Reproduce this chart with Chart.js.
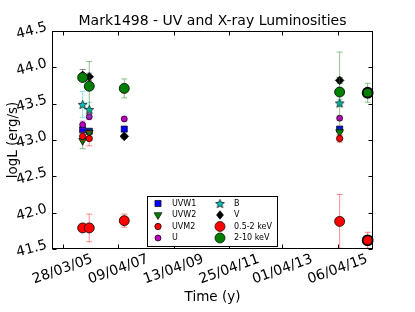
<!DOCTYPE html>
<html><head><meta charset="utf-8">
<script src="https://cdn.jsdelivr.net/npm/chart.js@4.4.1/dist/chart.umd.min.js"></script>
<style>html,body{margin:0;padding:0;background:#fff}</style>
</head><body>
<canvas id="c" width="415" height="312" style="width:415px;height:312px;display:block"></canvas>
<script>
// ---- tick labels (x in MJD) ----
const xTickValues = [53457, 54199, 54934, 55676, 56383, 57118];
const xTickLabels = ['28/03/05', '09/04/07', '13/04/09', '25/04/11', '01/04/13', '06/04/15'];
const yTickValues = [41.5, 42.0, 42.5, 43.0, 43.5, 44.0, 44.5];
const seriesNames = ['UVW1', 'UVW2', 'UVM2', 'U', 'B', 'V', '0.5-2 keV', '2-10 keV'];

// ---- series values ----
const uvw1Mjd = [53723, 53811, 54277, 57144];
const uvw1LogL = [43.14, 43.12, 43.15, 43.15];
const uvw1Err = [0.03, 0.03, 0.03, 0.03];

const uvw2Mjd = [53723, 53811, 57144];
const uvw2LogL = [42.99, 43.10, 43.11];
const uvw2Err = [0.11, 0.05, 0.04];

const uvm2Mjd = [53723, 53811, 57144];
const uvm2LogL = [43.05, 43.02, 43.02];
const uvm2Err = [0.06, 0.10, 0.05];

const uMjd = [53723, 53811, 54277, 57144];
const uLogL = [43.21, 43.32, 43.29, 43.30];
const uErr = [0.05, 0.04, 0.03, 0.03];

const bMjd = [53723, 53811, 57144];
const bLogL = [43.49, 43.42, 43.51];
const bErr = [0.18, 0.10, 0.05];

const vMjd = [53723, 53811, 54277, 57144];
const vLogL = [43.89, 43.87, 43.05, 43.82];
const vErr = [0.08, 0.05, 0.03, 0.04];

const softMjd = [53723, 53811, 54277, 57144, 57517];
const softLogL = [41.79, 41.79, 41.89, 41.88, 41.62];
const softErr = [0.05, 0.19, 0.09, 0.37, 0.11];

const hardMjd = [53723, 53811, 54277, 57144, 57517];
const hardLogL = [43.86, 43.74, 43.71, 43.66, 43.65];
const hardErr = [0.05, 0.34, 0.13, 0.55, 0.13];

// ---- build ----
function makeStar(outer, fill) {
  const s = Math.ceil(outer * 2 + 3);
  const cv = document.createElement('canvas'); cv.width = s; cv.height = s;
  const g = cv.getContext('2d'); const cx = s / 2, cy = s / 2 + 0.5; const inner = outer * 0.45;
  g.beginPath();
  for (let k = 0; k < 10; k++) {
    const r = k % 2 ? inner : outer; const a = -Math.PI / 2 + k * Math.PI / 5;
    const px = cx + r * Math.cos(a), py = cy + r * Math.sin(a);
    if (k) g.lineTo(px, py); else g.moveTo(px, py);
  }
  g.closePath(); g.fillStyle = fill; g.fill(); g.lineWidth = 0.7; g.strokeStyle = '#000'; g.stroke();
  return cv;
}
const starImg = makeStar(4.6, '#00bfbf');

const seriesCfg = [
  { x: uvw1Mjd, y: uvw1LogL, e: uvw1Err, color: '#0000ff', err: 'rgba(0,0,255,0.45)', style: 'rect', r: 4.3 },
  { x: uvw2Mjd, y: uvw2LogL, e: uvw2Err, color: '#007f00', err: 'rgba(0,127,0,0.45)', style: 'triangle', r: 4.5, rot: 180 },
  { x: uvm2Mjd, y: uvm2LogL, e: uvm2Err, color: '#ff0000', err: 'rgba(255,0,0,0.45)', style: 'circle', r: 3.2 },
  { x: uMjd, y: uLogL, e: uErr, color: '#bf00bf', err: 'rgba(191,0,191,0.45)', style: 'circle', r: 3 },
  { x: bMjd, y: bLogL, e: bErr, color: '#00bfbf', err: 'rgba(0,191,191,0.45)', style: starImg, r: 4.5 },
  { x: vMjd, y: vLogL, e: vErr, color: '#000000', err: 'rgba(0,0,0,0.45)', style: 'rectRot', r: 4.3 },
  { x: softMjd, y: softLogL, e: softErr, color: '#ff0000', err: 'rgba(255,0,0,0.45)', style: 'circle', r: 5 },
  { x: hardMjd, y: hardLogL, e: hardErr, color: '#007f00', err: 'rgba(0,127,0,0.45)', style: 'circle', r: 5 }
];

const datasets = seriesCfg.map((s, i) => ({
  label: seriesNames[i],
  data: s.x.map((v, k) => ({ x: v, y: s.y[k] })),
  errs: s.e,
  errColor: s.err,
  showLine: false,
  pointStyle: s.style,
  pointRadius: s.r,
  pointRotation: s.rot || 0,
  backgroundColor: s.color,
  borderColor: '#000',
  borderWidth: i >= 6 ? (c) => (c.dataIndex === s.x.length - 1 ? 1.8 : 0.8) : 0.7,
  order: 8 - i
}));

const DJ = '"DejaVu Sans", "Liberation Sans", sans-serif';

function legendMarker(c, style, x, y, color, r) {
  c.save(); c.fillStyle = color; c.strokeStyle = '#000'; c.lineWidth = 0.7;
  c.beginPath();
  if (style === 'rect') { const h = r * Math.SQRT1_2; c.rect(x - h, y - h, 2 * h, 2 * h); }
  else if (style === 'triangle') { c.moveTo(x - r * 0.87, y - r * 0.5); c.lineTo(x + r * 0.87, y - r * 0.5); c.lineTo(x, y + r); c.closePath(); }
  else if (style === 'rectRot') { c.moveTo(x, y - r); c.lineTo(x + r * 0.8, y); c.lineTo(x, y + r); c.lineTo(x - r * 0.8, y); c.closePath(); }
  else if (style === 'circle') { c.arc(x, y, r, 0, Math.PI * 2); }
  else { c.restore(); c.drawImage(style, x - style.width / 2, y - style.height / 2); return; }
  c.fill(); c.stroke(); c.restore();
}

const decor = {
  id: 'decor',
  beforeDatasetDraw(chart, args) {
    const ds = chart.data.datasets[args.index];
    const xs = chart.scales.x, ys = chart.scales.y, c = chart.ctx;
    c.save(); c.strokeStyle = ds.errColor; c.lineWidth = 1;
    ds.data.forEach((p, i) => {
      const e = ds.errs[i]; if (!e) return;
      const x = xs.getPixelForValue(p.x);
      const y1 = ys.getPixelForValue(p.y - e), y2 = ys.getPixelForValue(p.y + e);
      c.beginPath();
      c.moveTo(x, y1); c.lineTo(x, y2);
      c.moveTo(x - 3, y1); c.lineTo(x + 3, y1);
      c.moveTo(x - 3, y2); c.lineTo(x + 3, y2);
      c.stroke();
    });
    c.restore();
  },
  afterDraw(chart) {
    const c = chart.ctx, ca = chart.chartArea, xs = chart.scales.x, ys = chart.scales.y;
    const L = Math.round(ca.left) + 0.5, R = Math.round(ca.right) - 0.5, T = Math.round(ca.top) + 0.5, B = Math.round(ca.bottom) - 0.5;
    c.save();
    c.strokeStyle = '#000'; c.lineWidth = 1;
    c.strokeRect(L, T, R - L, B - T);
    // ticks (inward)
    c.beginPath();
    yTickValues.forEach(v => {
      const y = Math.round(ys.getPixelForValue(v)) + 0.5;
      c.moveTo(L, y); c.lineTo(L + 4, y); c.moveTo(R, y); c.lineTo(R - 4, y);
    });
    xTickValues.forEach(v => {
      const x = Math.round(xs.getPixelForValue(v)) + 0.5;
      c.moveTo(x, B); c.lineTo(x, B - 4); c.moveTo(x, T); c.lineTo(x, T + 4);
    });
    c.stroke();
    // labels
    c.fillStyle = '#000'; c.textAlign = 'center'; c.textBaseline = 'middle';
    c.font = '14px ' + DJ;
    const a15 = 15 * Math.PI / 180, a20 = 20 * Math.PI / 180;
    yTickValues.forEach(v => {
      const t = v.toFixed(1), w = c.measureText(t).width;
      const bw = w * Math.cos(a15) + 10 * Math.sin(a15);
      const y = ys.getPixelForValue(v);
      c.save(); c.translate(ca.left - 4 - bw / 2, y); c.rotate(-a15); c.fillText(t, 0, 0); c.restore();
    });
    xTickValues.forEach((v, i) => {
      const t = xTickLabels[i], w = c.measureText(t).width;
      const bh = w * Math.sin(a20) + 10 * Math.cos(a20);
      const x = xs.getPixelForValue(v);
      c.save(); c.translate(x, ca.bottom + 5 + bh / 2); c.rotate(-a20); c.fillText(t, 0, 0); c.restore();
    });
    const cx = (ca.left + ca.right) / 2;
    c.font = '14px ' + DJ;
    c.fillText('Mark1498 - UV and X-ray Luminosities', cx, 21);
    c.font = '13.5px ' + DJ;
    c.fillText('Time (y)', cx, 297);
    c.save(); c.translate(13, (ca.top + ca.bottom) / 2); c.rotate(-Math.PI / 2); c.fillText('logL (erg/s)', 0, 0); c.restore();
    // legend
    const bx = 147.5, by = 196.5, bw2 = 130, bh2 = 50;
    c.fillStyle = '#fff'; c.fillRect(bx, by, bw2, bh2);
    c.strokeStyle = '#000'; c.strokeRect(bx, by, bw2, bh2);
    c.font = '8px ' + DJ; c.textAlign = 'left';
    const rows = [203.5, 215, 226.5, 238];
    seriesCfg.forEach((s, i) => {
      const col = i < 4 ? 0 : 1, row = i % 4;
      const mx = col ? 220 : 158, tx = col ? 234 : 172, y = rows[row];
      legendMarker(c, s.style, mx, y, s.color, s.r);
      c.fillStyle = '#000'; c.fillText(seriesNames[i], tx, y);
    });
    c.restore();
  }
};

new Chart(document.getElementById('c'), {
  type: 'scatter',
  data: { datasets },
  options: {
    responsive: false, animation: false, devicePixelRatio: 1,
    layout: { padding: { left: 52, right: 42, top: 31, bottom: 63 } },
    scales: {
      x: { type: 'linear', min: 53315, max: 57588, display: false },
      y: { type: 'linear', min: 41.5, max: 44.5, display: false }
    },
    plugins: { legend: { display: false }, tooltip: { enabled: false } },
    clip: false
  },
  plugins: [decor]
});
</script>
</body></html>
